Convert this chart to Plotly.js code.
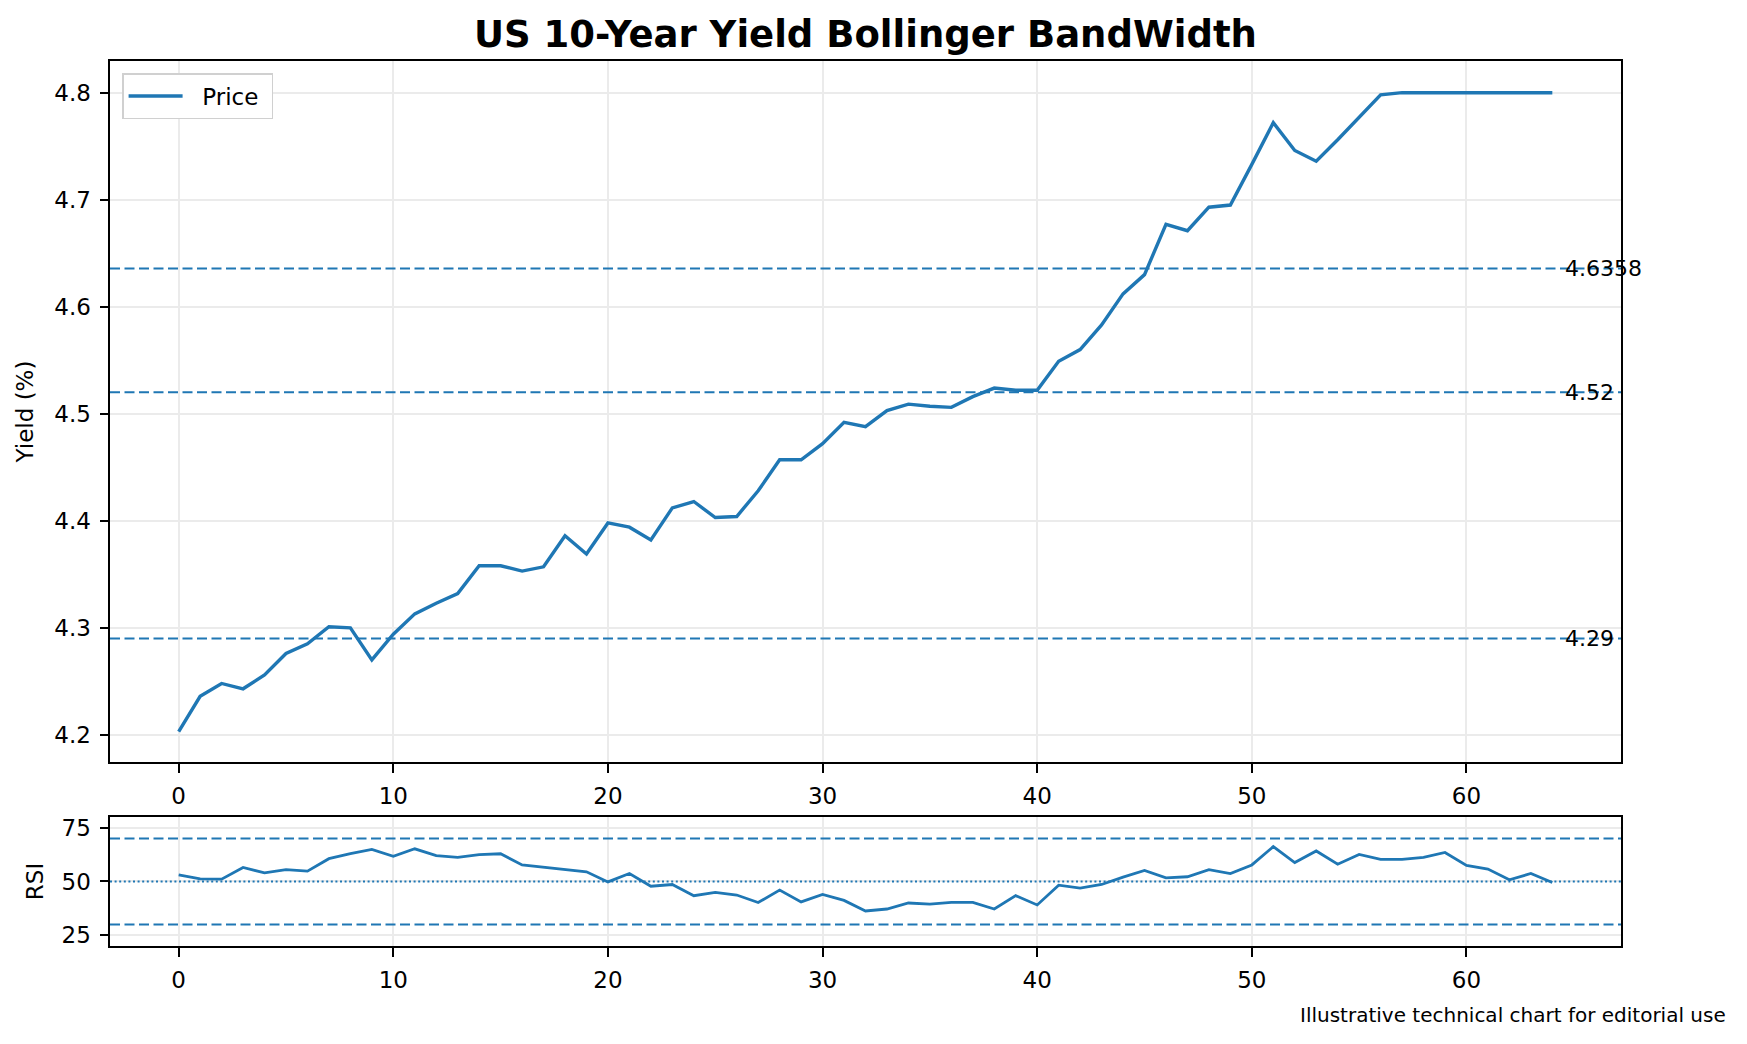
<!DOCTYPE html>
<html>
<head>
<meta charset="utf-8">
<script src="https://cdn.plot.ly/plotly-3.0.1.min.js"></script>
<style>
  html, body { margin: 0; padding: 0; background: #fff; }
  #chart { width: 1747px; height: 1044px; }
</style>
</head>
<body>
<div id="chart"></div>
<script>
// yield series (index 0..64)
const price = [
  4.203, 4.236, 4.248, 4.243, 4.256, 4.276, 4.285, 4.301, 4.300, 4.270,
  4.294, 4.313, 4.323, 4.332, 4.358, 4.358, 4.353, 4.357, 4.386, 4.369,
  4.398, 4.394, 4.382, 4.412, 4.418, 4.403, 4.404, 4.428, 4.457, 4.457,
  4.472, 4.492, 4.488, 4.503, 4.509, 4.507, 4.506, 4.516, 4.524, 4.522,
  4.522, 4.549, 4.560, 4.583, 4.612, 4.630, 4.677, 4.671, 4.693, 4.695,
  4.733, 4.772, 4.746, 4.736, 4.756, 4.777, 4.798, 4.800, 4.800, 4.800,
  4.800, 4.800, 4.800, 4.800, 4.800
]

const rsi = [
  53.1, 51.2, 51.1, 56.5, 54.0, 55.5, 54.8, 60.6, 62.9, 64.9,
  61.7, 65.2, 62.0, 61.2, 62.5, 62.9, 57.7, 56.6, 55.4, 54.5,
  49.8, 53.7, 47.8, 48.6, 43.4, 44.9, 43.7, 40.2, 46.0, 40.5,
  44.0, 41.2, 36.3, 37.2, 40.0, 39.5, 40.3, 40.3, 37.2, 43.4,
  39.1, 48.3, 46.9, 48.6, 52.0, 55.1, 51.7, 52.2, 55.5, 53.7,
  57.7, 66.2, 58.8, 64.2, 58.0, 62.6, 60.3, 60.3, 61.2, 63.5,
  57.5, 55.8, 50.8, 53.7, 49.5
]

const bandLevels = [4.6358, 4.52, 4.29]
const bandLabels = ['4.6358', '4.52', '4.29']
const rsiBands = [70, 30]
const rsiMid = 50

const idx = price.map((_, i) => i)
const blue = '#1f77b4'
const font = 'DejaVu Sans, sans-serif'

let tracePrice = {
  x: idx,
  y: price,
  type: 'scatter',
  mode: 'lines',
  // nbsp padding so the legend spacing looks like the original
  name: '\u00a0\u00a0Price\u00a0',
  line: { color: blue, width: 3.4 },
  xaxis: 'x',
  yaxis: 'y'
}

let traceRsi = {
  x: idx,
  y: rsi,
  type: 'scatter',
  mode: 'lines',
  name: 'RSI',
  showlegend: false,
  line: { color: blue, width: 2.8 },
  xaxis: 'x2',
  yaxis: 'y2'
}

let shapes = []
bandLevels.forEach(v => shapes.push({
  type: 'line', xref: 'x domain', yref: 'y', x0: 0, x1: 1, y0: v, y1: v,
  line: { color: blue, width: 2, dash: '10px,4.5px' }
}))
rsiBands.forEach(v => shapes.push({
  type: 'line', xref: 'x2 domain', yref: 'y2', x0: 0, x1: 1, y0: v, y1: v,
  line: { color: blue, width: 2, dash: '10px,4.5px' }
}))
shapes.push({
  type: 'line', xref: 'x2 domain', yref: 'y2', x0: 0, x1: 1, y0: rsiMid, y1: rsiMid,
  line: { color: blue, width: 2, dash: '2px,2.6px' }
})

let annotations = bandLevels.map((v, i) => ({
  x: idx[idx.length - 1] + 0.5, y: v, xref: 'x', yref: 'y',
  text: bandLabels[i], showarrow: false,
  xanchor: 'left', yanchor: 'middle',
  font: { family: font, size: 22, color: '#000' }
}))
annotations.push({
  x: 1.0708, y: -0.078, xref: 'paper', yref: 'paper',
  text: 'Illustrative technical chart for editorial use', showarrow: false,
  xanchor: 'right', yanchor: 'middle',
  font: { family: font, size: 20, color: '#000' }
})

const axisCommon = {
  showline: true, mirror: true, linecolor: '#000', linewidth: 2,
  ticks: 'outside', ticklen: 8.5, tickwidth: 2, tickcolor: '#000',
  showgrid: true, gridcolor: '#ebebeb', gridwidth: 1.5,
  zeroline: false, ticklabelstandoff: 4,
  tickfont: { family: font, size: 23, color: '#000' }
}

let layout = {
  width: 1747,
  height: 1044,
  paper_bgcolor: '#fff',
  plot_bgcolor: '#fff',
  margin: { l: 110, r: 126, t: 61, b: 98 },
  title: {
    text: '<b>US 10-Year Yield Bollinger BandWidth</b>',
    x: 0.5, xref: 'paper', y: 0.9674, yanchor: 'middle',
    font: { family: font, size: 37, color: '#000' }
  },
  showlegend: true,
  legend: {
    x: 0.008, y: 0.9864, xanchor: 'left', yanchor: 'top',
    bgcolor: '#fff', bordercolor: '#d0d0d0', borderwidth: 1.5,
    itemwidth: 54,
    font: { family: font, size: 23, color: '#000' }
  },
  xaxis: Object.assign({}, axisCommon, {
    anchor: 'y', range: [-3.2, 67.2], dtick: 10, tick0: 0
  }),
  yaxis: Object.assign({}, axisCommon, {
    anchor: 'x', domain: [0.2079, 1], range: [4.1746, 4.8296],
    dtick: 0.1, tick0: 4.2, tickformat: '.1f',
    title: { text: 'Yield (%)', standoff: 14, font: { family: font, size: 23, color: '#000' } }
  }),
  xaxis2: Object.assign({}, axisCommon, {
    anchor: 'y2', range: [-3.2, 67.2], dtick: 10, tick0: 0
  }),
  yaxis2: Object.assign({}, axisCommon, {
    anchor: 'x2', domain: [0, 0.1458], range: [20, 80],
    dtick: 25, tick0: 0,
    title: { text: 'RSI', standoff: 12, font: { family: font, size: 23, color: '#000' } }
  }),
  shapes: shapes,
  annotations: annotations
}

let config = { displayModeBar: false, responsive: false }

Plotly.newPlot('chart', [tracePrice, traceRsi], layout, config)
</script>
</body>
</html>
